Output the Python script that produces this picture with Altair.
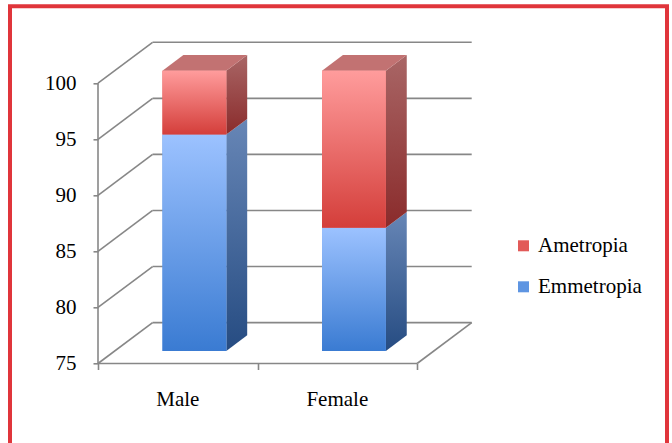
import altair as alt
import pandas as pd

# ---- data ----
categories = ["Male", "Female"]
emmetropia = [94.3, 86.0]
ametropia = [5.7, 14.0]
series = ["Ametropia", "Emmetropia"]
y_ticks = [75, 80, 85, 90, 95, 100]
x_ticks = [0, 1, 2]
BASE = 75

# ---- pseudo-3D geometry (in data units) ----
WALL_DX, WALL_DY = 0.342, 3.65      # depth of the back wall
FX, FY = 0.104, 1.115               # bar front plane offset
DBX, DBY = 0.131, 1.40              # bar depth
HALF = 0.2                          # half bar width
XMAX = len(categories) + WALL_DX
YMAX = 100 + WALL_DY

FONT = "Liberation Serif"
GRID = "#878787"
RED = "#E0353B"


def grad(top, bottom):
    return {"gradient": "linear", "x1": 0, "y1": 0, "x2": 0, "y2": 1,
            "stops": [{"offset": 0, "color": top}, {"offset": 1, "color": bottom}]}


front, side, topf = [], [], []
for i, cat in enumerate(categories):
    e, a = emmetropia[i], ametropia[i]
    segs = [("Emmetropia", BASE, e), ("Ametropia", e, e + a)]
    xl = i + 0.5 - HALF + FX
    xr = i + 0.5 + HALF + FX
    for s, lo, hi in segs:
        fid = f"{cat}-{s}"
        front.append(dict(cat=cat, series=s, x=xl, x2=xr, y=lo + FY, y2=hi + FY))
        side.append(dict(id=fid, series=s, x=xr, y=hi + FY, y2=lo + FY))
        side.append(dict(id=fid, series=s, x=xr + DBX, y=hi + FY + DBY, y2=lo + FY + DBY))
    hi = segs[-1][2]
    topf.append(dict(id=cat, y=hi + FY, x=xl, x2=xr))
    topf.append(dict(id=cat, y=hi + FY + DBY, x=xl + DBX, x2=xr + DBX))

front_df = pd.DataFrame(front)
side_df = pd.DataFrame(side)
top_df = pd.DataFrame(topf)

rules = []
for v in y_ticks:
    rules.append(dict(x=WALL_DX, x2=len(categories) + WALL_DX, y=v + WALL_DY, y2=v + WALL_DY))
    rules.append(dict(x=0, x2=WALL_DX, y=v, y2=v + WALL_DY))
rules.append(dict(x=0, x2=len(categories), y=BASE, y2=BASE))
rules.append(dict(x=len(categories), x2=len(categories) + WALL_DX, y=BASE, y2=BASE + WALL_DY))
rules.append(dict(x=0, x2=0, y=BASE, y2=100))
rules_df = pd.DataFrame(rules)

label_df = pd.DataFrame({"cat": categories, "x": [i + 0.5 for i in range(len(categories))], "y": [BASE] * len(categories)})

xs = alt.Scale(domain=[0, XMAX], nice=False, zero=False)
ys = alt.Scale(domain=[BASE, YMAX], nice=False, zero=False)

X_AXIS = alt.Axis(values=x_ticks, labels=False, domain=False, grid=False,
                  tickSize=6, tickWidth=1.6, tickColor=GRID, title=None)
Y_AXIS = alt.Axis(values=y_ticks, domain=False, grid=False, tickSize=5,
                  tickWidth=1.6, tickColor=GRID, labelFont=FONT,
                  labelFontSize=21, labelColor="black", labelPadding=17,
                  labelFlush=False, title=None)


def X(field, **kw):
    return alt.X(field, scale=xs, axis=X_AXIS, title=None, **kw)


def Y(field, **kw):
    return alt.Y(field, scale=ys, axis=Y_AXIS, title=None, **kw)


# ---- layers ----
walls = alt.Chart(rules_df).mark_rule(color=GRID, strokeWidth=1.6).encode(
    x=X("x:Q"), x2="x2:Q", y=Y("y:Q"), y2="y2:Q",
)


def side_layer(s, g):
    return alt.Chart(side_df).transform_filter(alt.datum.series == s).mark_area(fill=g).encode(
        x=X("x:Q"), y=Y("y:Q", stack=None), y2="y2:Q", detail="id:N",
    )


side_blue = side_layer("Emmetropia", grad("#6786B6", "#264C82"))
side_red = side_layer("Ametropia", grad("#A96666", "#8A2B2B"))

top_face = alt.Chart(top_df).mark_area(orient="horizontal", fill="#C27272").encode(
    y=Y("y:Q"), x=X("x:Q", stack=None), x2="x2:Q", detail="id:N",
)

legend_layer = alt.Chart(front_df).mark_rect().encode(
    x=X("x:Q"), x2="x2:Q", y=Y("y:Q"), y2="y2:Q",
    color=alt.Color("series:N",
                    scale=alt.Scale(domain=series, range=["#E25A58", "#5E95E2"]),
                    legend=alt.Legend(title=None, orient="none", legendX=415, legendY=193,
                                      symbolType="square", symbolSize=121, symbolStrokeWidth=0,
                                      labelFont=FONT, labelFontSize=21, labelColor="black",
                                      labelOffset=4, rowPadding=19, labelLimit=300, padding=0)),
)


def front_layer(s, g):
    return alt.Chart(front_df).transform_filter(alt.datum.series == s).mark_rect(fill=g).encode(
        x=X("x:Q"), x2="x2:Q", y=Y("y:Q"), y2="y2:Q",
    )


front_blue = front_layer("Emmetropia", grad("#9CC2FF", "#3A7BD2"))
front_red = front_layer("Ametropia", grad("#FF9C9C", "#D43E3A"))

labels = alt.Chart(label_df).mark_text(font=FONT, fontSize=21, color="black", dy=36).encode(
    x=X("x:Q"), y=Y("y:Q"), text="cat:N",
)

frame = alt.Chart(pd.DataFrame({"k": [0]})).mark_rect(fillOpacity=0, stroke=RED, strokeWidth=4).encode(
    x=alt.value(-88), x2=alt.value(569), y=alt.value(-36), y2=alt.value(430),
)

chart = alt.layer(
    walls, side_blue, side_red, top_face, legend_layer, front_blue, front_red, labels, frame
).properties(
    width=373.7, height=321.2,
    autosize=alt.AutoSizeParams(type="none"),
    padding={"left": 98, "top": 42.3, "right": 200.3, "bottom": 79.5},
    background="white",
).configure_view(strokeWidth=0).configure_axis(labelFont=FONT, labelFontSize=21)

chart.save("out.html", embed_options={"renderer": "svg", "actions": False})
